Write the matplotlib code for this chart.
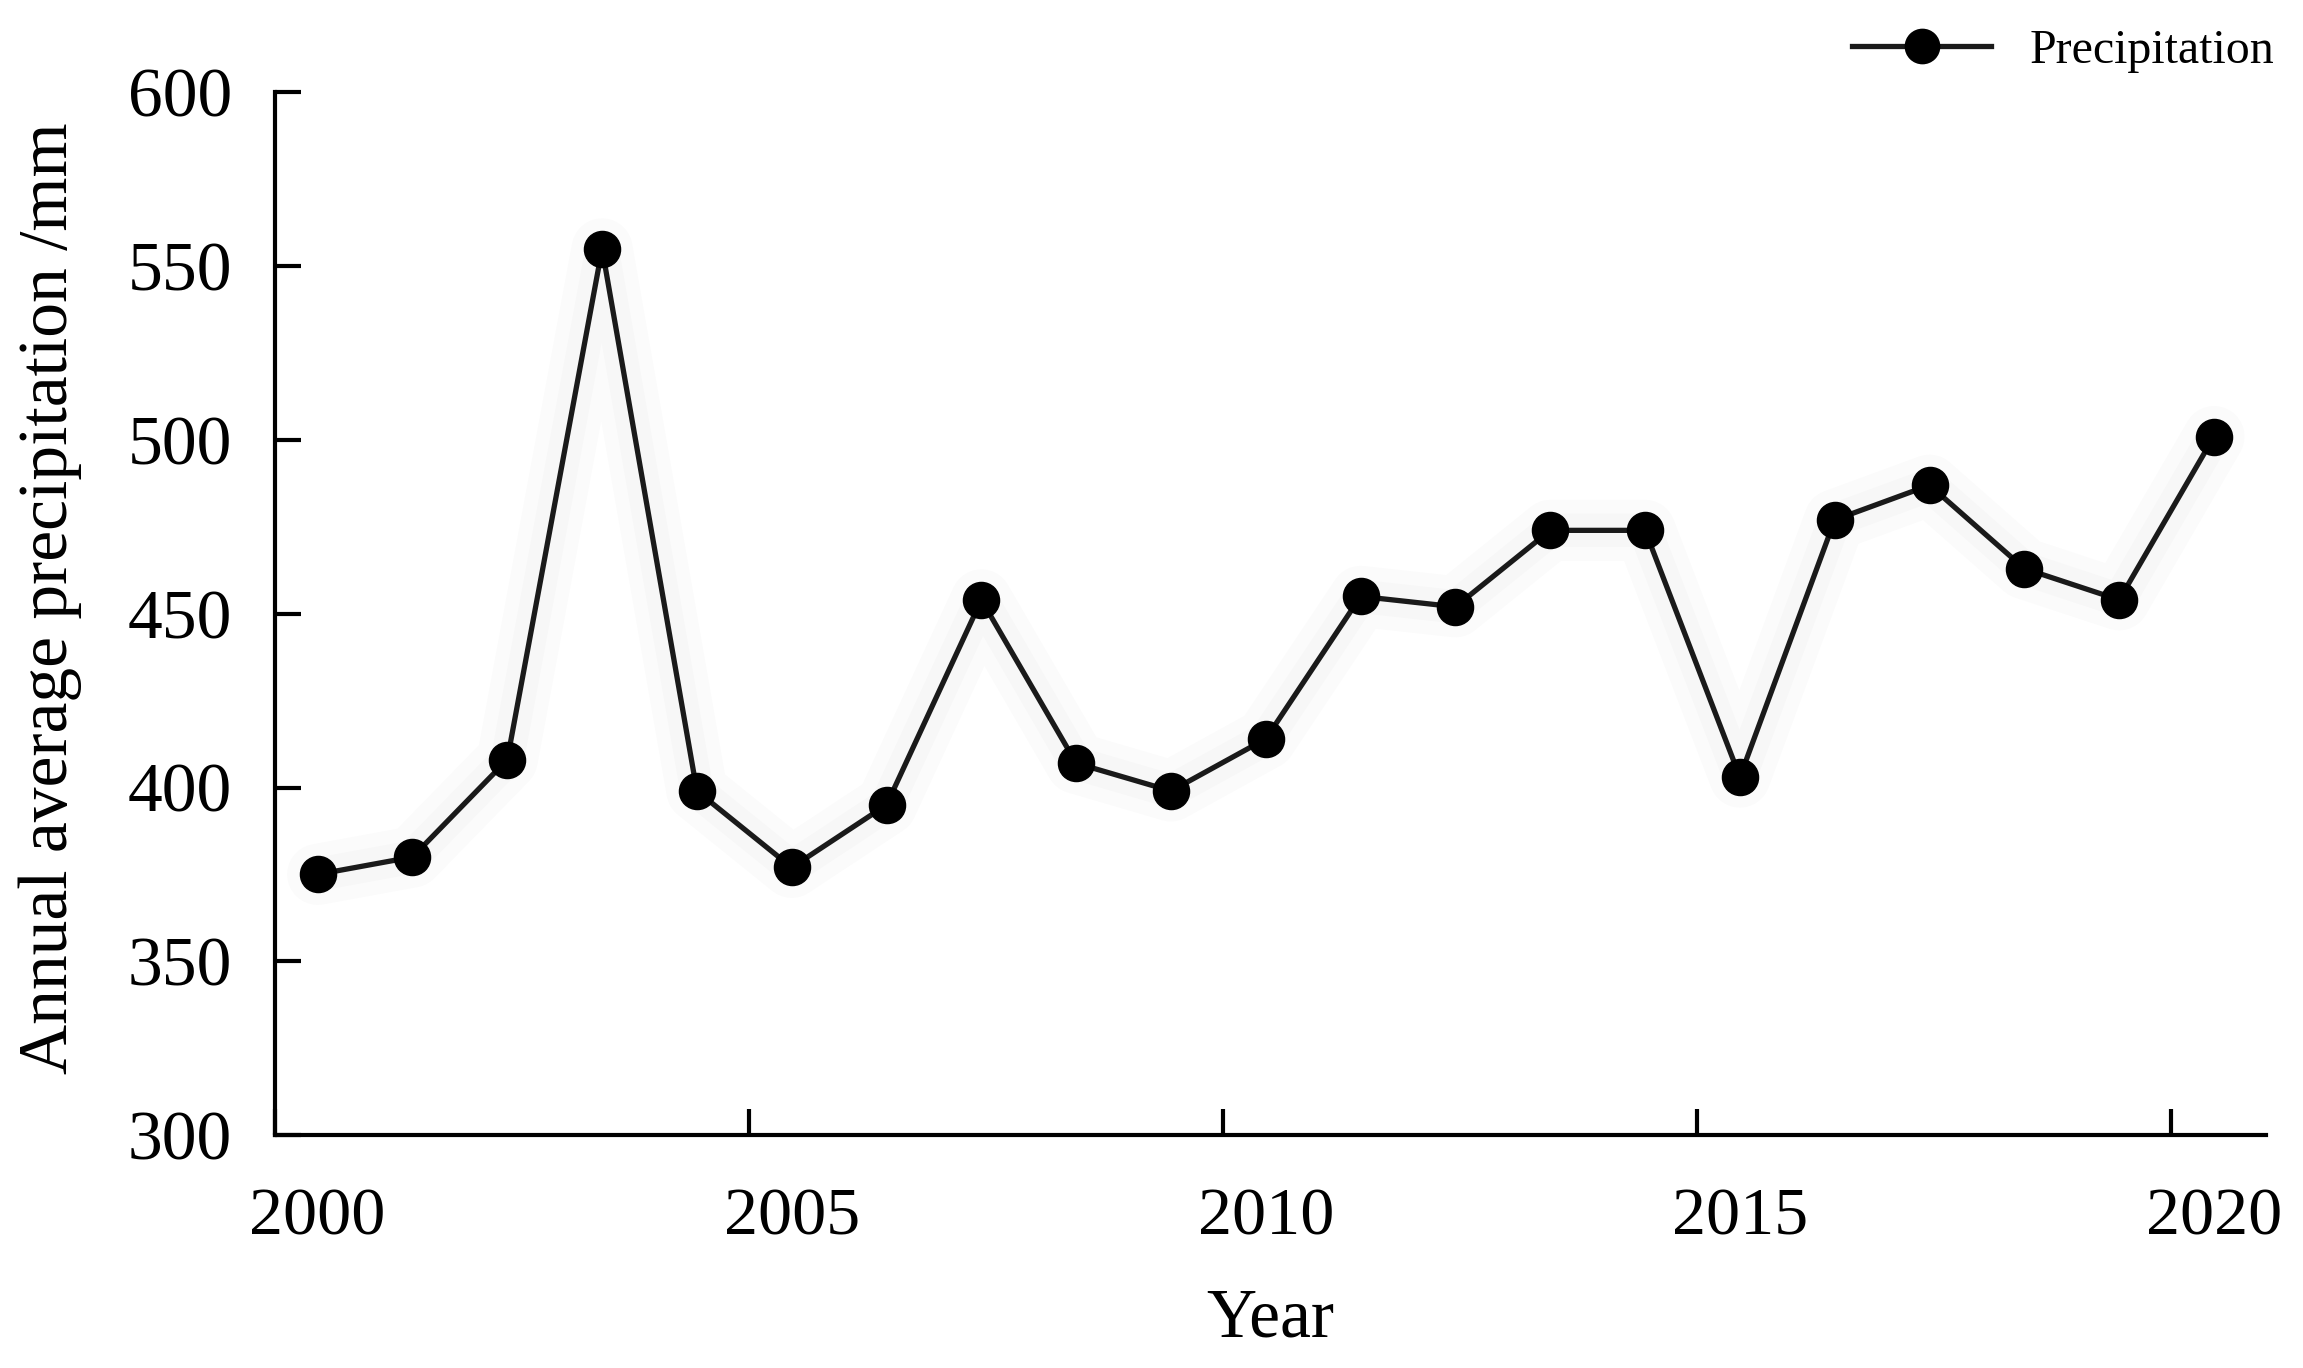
import numpy as np
import matplotlib
matplotlib.use("Agg")
import matplotlib.pyplot as plt

years = np.arange(2000, 2021)
precip = [375, 380, 408, 555, 399, 377, 395, 454, 407, 399, 414,
          455, 452, 474, 474, 403, 477, 487, 463, 454, 501]
x_ticks = [2000, 2005, 2010, 2015, 2020]
x_labels = ["2000", "2005", "2010", "2015", "2020"]
y_ticks = [300, 350, 400, 450, 500, 550, 600]

plt.rcParams["font.family"] = ["Liberation Serif", "DejaVu Serif"]

fig = plt.figure(figsize=(23.03, 13.68), dpi=100)
ax = fig.add_axes([0.1194, 0.1703, 0.8646, 0.7621])

# points (and year labels) sit to the right of the year tick, category-axis style
shift = 0.45
x = years + shift

# faint halo
ax.plot(x, precip, color="0.5", lw=44, alpha=0.03, solid_capstyle="round", zorder=1)
ax.plot(x, precip, color="0.5", lw=24, alpha=0.03, solid_capstyle="round", zorder=1)
line, = ax.plot(x, precip, "-o", color="#1a1a1a", lw=3.8, ms=26,
                markerfacecolor="black", markeredgecolor="black", zorder=3,
                label="Precipitation")

ax.set_xlim(2000, 2021)
ax.set_ylim(300, 600)
ax.set_xticks(x_ticks)
ax.set_xticks(np.array(x_ticks) + shift, labels=x_labels, minor=True)
ax.set_yticks(y_ticks)

for s in ["top", "right"]:
    ax.spines[s].set_visible(False)
for s in ["left", "bottom"]:
    ax.spines[s].set_linewidth(3)

ax.tick_params(direction="in", length=19, width=3, labelsize=50, pad=31)
ax.tick_params(axis="x", which="major", labelbottom=False)
ax.tick_params(axis="x", which="minor", length=0, labelsize=49, pad=38)

ax.set_xlabel("Year", fontsize=50, labelpad=28)
ax.set_ylabel("Annual average precipitation /mm", fontsize=50, labelpad=33)
ax.yaxis.label.set_y(0.515)

fig.legend(handles=[line], loc="upper right", bbox_to_anchor=(1.0, 1.0),
           frameon=False, fontsize=34.5, handlelength=2.9, markerscale=0.95,
           borderaxespad=0.2)

fig.savefig("out.png", dpi=100)
